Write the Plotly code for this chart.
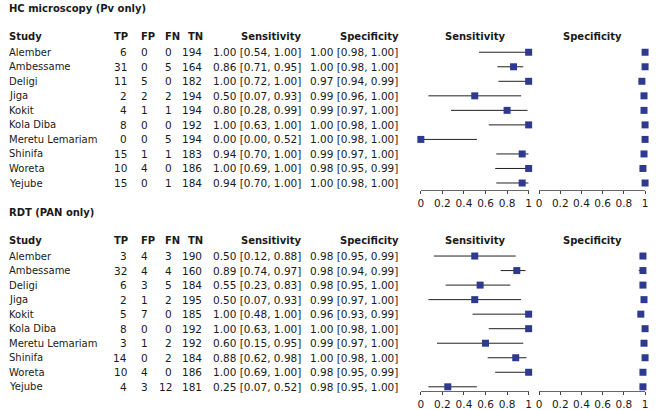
import plotly.graph_objects as go

W, H = 656, 410

studies = ["Alember", "Ambessame", "Deligi", "Jiga", "Kokit", "Kola Diba",
           "Meretu Lemariam", "Shinifa", "Woreta", "Yejube"]

# HC microscopy (Pv only)
hc_tp = [6, 31, 11, 2, 4, 8, 0, 15, 10, 15]
hc_fp = [0, 0, 5, 2, 1, 0, 0, 1, 4, 0]
hc_fn = [0, 5, 0, 2, 1, 0, 5, 1, 0, 1]
hc_tn = [194, 164, 182, 194, 194, 192, 194, 183, 186, 184]
hc_sens = [1.00, 0.86, 1.00, 0.50, 0.80, 1.00, 0.00, 0.94, 1.00, 0.94]
hc_sens_lo = [0.54, 0.71, 0.72, 0.07, 0.28, 0.63, 0.00, 0.70, 0.69, 0.70]
hc_sens_hi = [1.00, 0.95, 1.00, 0.93, 0.99, 1.00, 0.52, 1.00, 1.00, 1.00]
hc_spec = [1.00, 1.00, 0.97, 0.99, 0.99, 1.00, 1.00, 0.99, 0.98, 1.00]
hc_spec_lo = [0.98, 0.98, 0.94, 0.96, 0.97, 0.98, 0.98, 0.97, 0.95, 0.98]
hc_spec_hi = [1.00, 1.00, 0.99, 1.00, 1.00, 1.00, 1.00, 1.00, 0.99, 1.00]

# RDT (PAN only)
rdt_tp = [3, 32, 6, 2, 5, 8, 3, 14, 10, 4]
rdt_fp = [4, 4, 3, 1, 7, 0, 1, 0, 4, 3]
rdt_fn = [3, 4, 5, 2, 0, 0, 2, 2, 0, 12]
rdt_tn = [190, 160, 184, 195, 185, 192, 192, 184, 186, 181]
rdt_sens = [0.50, 0.89, 0.55, 0.50, 1.00, 1.00, 0.60, 0.88, 1.00, 0.25]
rdt_sens_lo = [0.12, 0.74, 0.23, 0.07, 0.48, 0.63, 0.15, 0.62, 0.69, 0.07]
rdt_sens_hi = [0.88, 0.97, 0.83, 0.93, 1.00, 1.00, 0.95, 0.98, 1.00, 0.52]
rdt_spec = [0.98, 0.98, 0.98, 0.99, 0.96, 1.00, 0.99, 1.00, 0.98, 0.98]
rdt_spec_lo = [0.95, 0.94, 0.95, 0.97, 0.93, 0.98, 0.97, 0.98, 0.95, 0.95]
rdt_spec_hi = [0.99, 0.99, 1.00, 1.00, 0.99, 1.00, 1.00, 1.00, 0.99, 1.00]

tick_vals = [0, 0.2, 0.4, 0.6, 0.8, 1]
tick_text = ["0", "0.2", "0.4", "0.6", "0.8", "1"]

sections = [
    dict(title="HC microscopy (Pv only)", tp=hc_tp, fp=hc_fp, fn=hc_fn, tn=hc_tn,
         sens=hc_sens, sens_lo=hc_sens_lo, sens_hi=hc_sens_hi,
         spec=hc_spec, spec_lo=hc_spec_lo, spec_hi=hc_spec_hi,
         title_y=8.5, head_y=36.5, row0=52.5, axis_y=191.3),
    dict(title="RDT (PAN only)", tp=rdt_tp, fp=rdt_fp, fn=rdt_fn, tn=rdt_tn,
         sens=rdt_sens, sens_lo=rdt_sens_lo, sens_hi=rdt_sens_hi,
         spec=rdt_spec, spec_lo=rdt_spec_lo, spec_hi=rdt_spec_hi,
         title_y=213.3, head_y=241.5, row0=257.3, axis_y=393.3),
]

ROW = 14.6
FONT = "DejaVu Sans"
TXT = "#1a1a1a"
FS = 10.5
FSN = 10
FSB = 10
MARK = "#2E3A8F"

SENS_X0, SENS_X1 = 421.7, 530.5
SPEC_X0, SPEC_X1 = 541.0, 648.0


def px(x):
    return x / W


def py(y):
    return 1 - y / H


fig = go.Figure()
ann = []
layout = dict(
    width=W, height=H,
    margin=dict(l=0, r=0, t=0, b=0, pad=0),
    paper_bgcolor="white", plot_bgcolor="white",
    showlegend=False,
    font=dict(family=FONT, size=FS, color=TXT),
)


def add_text(x, y, text, anchor="left", bold=False, size=None):
    ann.append(dict(
        xref="paper", yref="paper", x=px(x), y=py(y),
        text=f"<b>{text}</b>" if bold else text,
        showarrow=False, xanchor=anchor, yanchor="middle",
        font=dict(family=FONT, size=size or (FSB if bold else FS), color=TXT),
    ))


ax_i = 1
for s in sections:
    add_text(4, s["title_y"], s["title"], bold=True)
    hy = s["head_y"]
    add_text(4, hy, "Study", bold=True)
    add_text(119.5, hy, "TP", anchor="center", bold=True)
    add_text(146, hy, "FP", anchor="center", bold=True)
    add_text(171.5, hy, "FN", anchor="center", bold=True)
    add_text(194.5, hy, "TN", anchor="center", bold=True)
    add_text(270.5, hy, "Sensitivity", anchor="center", bold=True)
    add_text(370.3, hy, "Specificity", anchor="center", bold=True)
    add_text(476, hy, "Sensitivity", anchor="center", bold=True)
    add_text(595, hy, "Specificity", anchor="center", bold=True)

    for i, name in enumerate(studies):
        ry = s["row0"] + i * ROW
        add_text(4, ry, name, size=FSN)
        add_text(127.5, ry, str(s["tp"][i]), anchor="right")
        add_text(148.5, ry, str(s["fp"][i]), anchor="right")
        add_text(172.5, ry, str(s["fn"][i]), anchor="right")
        add_text(202.5, ry, str(s["tn"][i]), anchor="right")
        add_text(256.5, ry,
                 f"{s['sens'][i]:.2f} [{s['sens_lo'][i]:.2f}, {s['sens_hi'][i]:.2f}]",
                 anchor="center")
        add_text(354.5, ry,
                 f"{s['spec'][i]:.2f} [{s['spec_lo'][i]:.2f}, {s['spec_hi'][i]:.2f}]",
                 anchor="center")

    top_px = s["row0"] - 0.5 * ROW
    bot_val = (s["axis_y"] - s["row0"]) / ROW
    bot_px = s["axis_y"]
    ydom = [py(bot_px), py(top_px)]

    for kind, x0, x1 in (("sens", SENS_X0, SENS_X1), ("spec", SPEC_X0, SPEC_X1)):
        est = s[kind]
        lo = s[kind + "_lo"]
        hi = s[kind + "_hi"]
        xa = "x" if ax_i == 1 else f"x{ax_i}"
        ya = "y" if ax_i == 1 else f"y{ax_i}"
        fig.add_trace(go.Scatter(
            x=est, y=studies, mode="markers",
            marker=dict(symbol="square", size=7, color=MARK, line=dict(width=0)),
            error_x=dict(type="data", symmetric=False,
                         array=[h - e for h, e in zip(hi, est)],
                         arrayminus=[e - l for e, l in zip(est, lo)],
                         color="#222222", thickness=1, width=0),
            xaxis=xa, yaxis=ya, cliponaxis=False, hoverinfo="skip",
        ))
        key = "" if ax_i == 1 else str(ax_i)
        layout["xaxis" + key] = dict(
            domain=[px(x0), px(x1)], range=[0, 1], anchor=ya,
            tickvals=tick_vals, ticktext=tick_text,
            showgrid=False, zeroline=False,
            showline=True, linecolor="#666666", linewidth=1,
            ticks="outside", ticklen=3, tickcolor="#444444", tickwidth=1,
            tickfont=dict(family=FONT, size=FS, color=TXT),
            fixedrange=True,
        )
        layout["yaxis" + key] = dict(
            domain=ydom, range=[bot_val, -0.5], anchor=xa,
            type="category", categoryarray=studies,
            showgrid=False, zeroline=False, showline=False,
            showticklabels=False, ticks="", fixedrange=True,
        )
        ax_i += 1

layout["annotations"] = ann
fig.update_layout(**layout)
fig.write_html("out.html",
               config={"displayModeBar": False},
               post_script="document.body.style.margin='0px';document.body.style.padding='0px';")
